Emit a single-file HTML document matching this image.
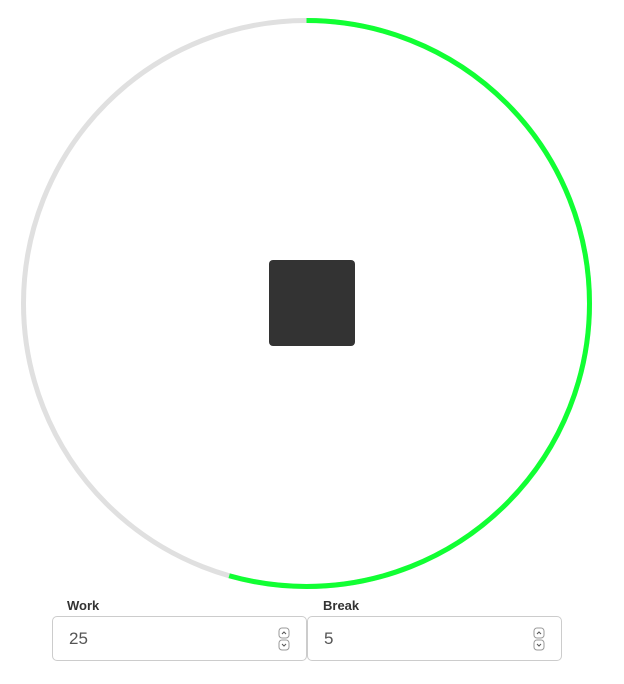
<!DOCTYPE html>
<html><head><meta charset="utf-8"><style>
body{margin:0;width:624px;height:684px;background:#fff;font-family:"Liberation Sans",sans-serif;position:relative;overflow:hidden}
.lbl{position:absolute;top:598px;font-size:13px;font-weight:bold;color:#333}
.box{position:absolute;top:616px;height:45px;width:255px;border:1px solid #ccc;border-radius:5px;box-sizing:border-box}
.val{position:absolute;left:16px;top:12px;font-size:17px;color:#555}
.spin{position:absolute;right:16px;top:10px;width:12px;height:24px}
</style></head><body>
<svg width="624" height="600" style="position:absolute;left:0;top:0">
<circle cx="306.5" cy="303.5" r="283" fill="none" stroke="#e0e0e0" stroke-width="5"/>
<circle id="prog" cx="306.5" cy="303.5" r="283" fill="none" stroke="#11ff33" stroke-width="5" transform="rotate(-90 306.5 303.5)"/>
<rect x="269" y="260" width="86" height="86" rx="4" fill="#333"/>
</svg>
<script>
const progress=[0.544];
const c=2*Math.PI*283;
const p=document.getElementById('prog');
p.setAttribute('stroke-dasharray',(c*progress[0])+' '+c);
</script>
<div class="lbl" style="left:67px">Work</div>
<div class="box" style="left:52px"><span class="val">25</span>
<svg class="spin" viewBox="0 0 12 24"><rect x="1" y="1" width="10" height="10" rx="3" fill="none" stroke="#999"/><path d="M4 7 L6 5 L8 7" fill="none" stroke="#555"/><rect x="1" y="13" width="10" height="10" rx="3" fill="none" stroke="#999"/><path d="M4 17 L6 19 L8 17" fill="none" stroke="#555"/></svg></div>
<div class="lbl" style="left:323px">Break</div>
<div class="box" style="left:307px"><span class="val">5</span>
<svg class="spin" viewBox="0 0 12 24"><rect x="1" y="1" width="10" height="10" rx="3" fill="none" stroke="#999"/><path d="M4 7 L6 5 L8 7" fill="none" stroke="#555"/><rect x="1" y="13" width="10" height="10" rx="3" fill="none" stroke="#999"/><path d="M4 17 L6 19 L8 17" fill="none" stroke="#555"/></svg></div>
</body></html>
